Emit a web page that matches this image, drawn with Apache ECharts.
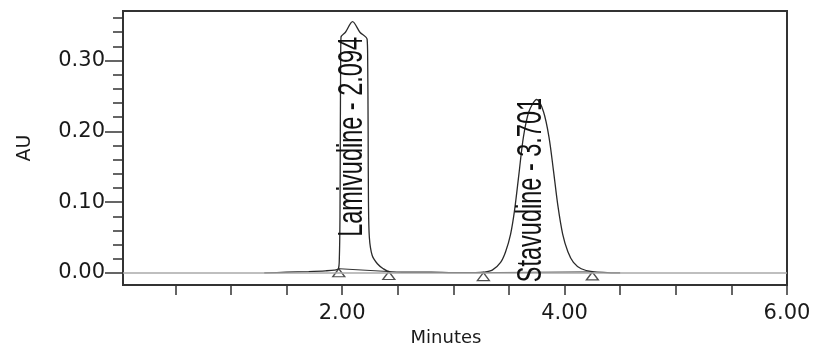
<!DOCTYPE html>
<html>
<head>
<meta charset="utf-8">
<script src="https://cdn.jsdelivr.net/npm/echarts@6/dist/echarts.min.js"></script>
<style>
  html, body { margin: 0; padding: 0; background: #fff; }
  #container { width: 817px; height: 347px; }
</style>
</head>
<body>
<div id="container"></div>
<script>
// chromatogram trace (minutes, AU)
var traceTime = [1.30, 1.50, 1.70, 1.85, 1.93, 1.966, 1.975, 1.981, 1.984, 1.987, 1.99, 2.03, 2.094,
    2.16, 2.225, 2.23, 2.234, 2.237, 2.245, 2.27, 2.317, 2.37, 2.42, 2.60, 2.80, 3.00, 3.20, 3.27,
    3.35, 3.425, 3.47, 3.515, 3.55, 3.59, 3.63, 3.68, 3.75, 3.81, 3.86, 3.90, 3.94, 3.983, 4.03,
    4.08, 4.15, 4.25, 4.50];
var traceAU = [0.000, 0.001, 0.002, 0.003, 0.004, 0.006, 0.02, 0.08, 0.20, 0.30, 0.333, 0.34, 0.355,
    0.34, 0.33, 0.30, 0.20, 0.10, 0.05, 0.025, 0.013, 0.006, 0.002, 0.001, 0.001, 0.0005, 0.0005, 0.001,
    0.004, 0.015, 0.03, 0.055, 0.088, 0.14, 0.192, 0.228, 0.245, 0.228, 0.192, 0.145, 0.095, 0.055, 0.03,
    0.015, 0.006, 0.002, 0.000];

// integration baselines (start / end marks)
var lamBase = [[1.97, 0.006], [2.42, 0.002]];
var stavBase = [[3.27, 0.0005], [4.25, 0.0015]];

// peak labels
var peakNames = ["Lamivudine", "Stavudine"];
var peakTimes = [2.094, 3.701];
var labelStart = [0.051, -0.013];

// axes
var xTicks = [0.5, 1.0, 1.5, 2.0, 2.5, 3.0, 3.5, 4.0, 4.5, 5.0, 5.5, 6.0];
var xLabels = [2.0, 4.0, 6.0];
var yMajor = [0.0, 0.1, 0.2, 0.3];
var yMinor = [0.02, 0.04, 0.06, 0.08, 0.12, 0.14, 0.16, 0.18, 0.22, 0.24, 0.26, 0.28, 0.32, 0.34, 0.36];

var trace = traceTime.map(function(t, i) { return [t, traceAU[i]]; });
var marks = lamBase.concat(stavBase);

var axisFont = "DejaVu Sans";
var ink = "#1a1a1a";

var chart = echarts.init(document.getElementById("container"));

var yBase = {
    type: "value",
    position: "left",
    min: -0.017,
    max: 0.37,
    splitLine: { show: false },
    axisLine: { show: true, lineStyle: { color: "#333", width: 2 } }
};

chart.setOption({
    animation: false,
    grid: {
        left: 123, right: 30, top: 11, bottom: 62,
        outerBoundsMode: "none",
        containLabel: false,
        show: true, borderColor: "#333", borderWidth: 2, backgroundColor: "#fff"
    },
    xAxis: {
        type: "value",
        min: 0.03,
        max: 6.0,
        name: "Minutes",
        nameLocation: "middle",
        nameGap: 36,
        nameTextStyle: { fontFamily: axisFont, fontSize: 18, color: ink, padding: [0, 18, 0, 0] },
        splitLine: { show: false },
        axisLine: { show: true, onZero: false, lineStyle: { color: "#333", width: 2 } },
        axisTick: { show: true, customValues: xTicks, length: 10, lineStyle: { color: "#333", width: 1.5 } },
        axisLabel: {
            customValues: xLabels, margin: 18,
            fontFamily: axisFont, fontSize: 21, color: ink,
            formatter: function(v) { return v.toFixed(2); }
        }
    },
    yAxis: [
        Object.assign({}, yBase, {
            name: "AU",
            nameLocation: "middle",
            nameGap: 88,
            nameTextStyle: { fontFamily: axisFont, fontSize: 19, color: ink },
            axisTick: { show: true, customValues: yMajor, length: 18, lineStyle: { color: "#333", width: 1.5 } },
            axisLabel: {
                customValues: yMajor, margin: 18,
                fontFamily: axisFont, fontSize: 21, color: ink,
                formatter: function(v) { return v.toFixed(2); }
            }
        }),
        Object.assign({}, yBase, {
            axisTick: { show: true, customValues: yMinor, length: 10, lineStyle: { color: "#333", width: 1.5 } },
            axisLabel: { show: false }
        })
    ],
    series: [
        {
            name: "zero",
            type: "line",
            data: [],
            markLine: {
                silent: true,
                symbol: "none",
                label: { show: false },
                lineStyle: { color: "#aaa", width: 1.5, type: "solid" },
                data: [{ yAxis: 0 }]
            }
        },
        {
            name: "Lamivudine baseline",
            type: "line",
            data: lamBase,
            symbol: "none",
            lineStyle: { color: "#333", width: 1 }
        },
        {
            name: "Stavudine baseline",
            type: "line",
            data: stavBase,
            symbol: "none",
            lineStyle: { color: "#333", width: 1 }
        },
        {
            name: "trace",
            type: "line",
            data: trace,
            symbol: "none",
            smooth: 0.3,
            lineStyle: { color: "#2a2a2a", width: 1.3 }
        },
        {
            name: "marks",
            type: "scatter",
            data: marks,
            symbol: "triangle",
            symbolSize: [12, 8],
            symbolOffset: [0, "50%"],
            itemStyle: { color: "#fff", borderColor: "#222", borderWidth: 1.3 }
        }
    ]
});

// rotated peak labels, placed through the axes
var labels = peakNames.map(function(n, i) {
    var p = chart.convertToPixel({ xAxisIndex: 0, yAxisIndex: 0 }, [peakTimes[i], labelStart[i]]);
    return {
        type: "text",
        x: p[0],
        y: p[1],
        rotation: Math.PI / 2,
        scaleY: 1.5,
        z: 100,
        style: {
            text: n + " - " + peakTimes[i].toFixed(3),
            fontFamily: "Liberation Sans",
            fontSize: 23.5,
            fill: "#111",
            align: "left",
            verticalAlign: "middle"
        }
    };
});
chart.setOption({ graphic: labels });
</script>
</body>
</html>
